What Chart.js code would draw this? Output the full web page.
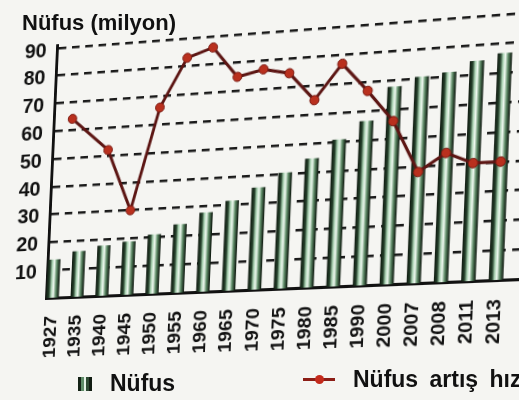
<!DOCTYPE html>
<html>
<head>
<meta charset="utf-8">
<script src="https://cdn.jsdelivr.net/npm/chart.js@4.4.1/dist/chart.umd.min.js"></script>
<style>
  html, body { margin: 0; padding: 0; background: #f5f5f2; overflow: hidden; }
  body { position: relative; width: 519px; height: 400px; font-family: "Liberation Sans", Arial, sans-serif; color: #111; }
  #chart { position: absolute; left: 0; top: 0; transform-origin: 0 0; }
  #title { position: absolute; left: 22px; top: 12px; font-size: 22px; line-height: 1; font-weight: bold; }
  .legend { position: absolute; font-size: 23px; line-height: 1; font-weight: bold; white-space: nowrap; }
  .barkey { display: inline-block; width: 14px; height: 14px; margin-right: 18px; vertical-align: 0;
    background: linear-gradient(to right, #142216 0 22%, #5f8c68 22% 42%, #e4f2e6 42% 58%, #2f4b34 58% 78%, #111c12 78%); }
  .linekey { display: inline-block; position: relative; width: 32px; height: 3px; margin-right: 18px; vertical-align: 6px; background: #8c1d16; }
  .linekey i { position: absolute; left: 12px; top: -3px; width: 9px; height: 9px; border-radius: 50%; background: #c42a1c; }
</style>
</head>
<body>
<canvas id="chart" width="530" height="400"></canvas>
<div id="title">Nüfus (milyon)</div>
<div class="legend" style="left:78px; top:372px"><span class="barkey"></span>Nüfus</div>
<div class="legend" style="left:303px; top:368px; word-spacing:5px"><span class="linekey"><i></i></span>Nüfus artış hızı</div>
<script>
const years = ['1927', '1935', '1940', '1945', '1950', '1955', '1960', '1965', '1970',
  '1975', '1980', '1985', '1990', '2000', '2007', '2008', '2011', '2013'];
const population = [13.6, 16.2, 17.8, 18.8, 20.9, 24.1, 27.8, 31.4, 35.6,
  40.3, 44.7, 50.7, 56.5, 67.8, 70.6, 71.5, 74.7, 76.7];
// growth rate points sit between/at the year columns (index on the year axis)
const ratePos = [0.5, 2, 3, 4, 5, 6, 7, 8, 9, 10, 11, 12, 13, 14, 15, 16, 17];
const rateValues = [64, 52, 30, 66, 83, 86, 75, 77, 75, 65, 77, 67, 56, 38, 44, 40, 40];
const yTicks = [10, 20, 30, 40, 50, 60, 70, 80, 90];

const FONT = '"Liberation Sans", Arial, sans-serif';

function barFill(c) {
  const chart = c.chart;
  const sx = chart.scales && chart.scales.x;
  if (!sx || c.dataIndex === undefined) return '#8fb898';
  const x = sx.getPixelForValue(c.dataIndex);
  if (!isFinite(x)) return '#8fb898';
  const g = chart.ctx.createLinearGradient(x - 6.5, 0, x + 6.5, 0);
  g.addColorStop(0, '#111c12');
  g.addColorStop(0.2, '#24402a');
  g.addColorStop(0.38, '#a9d2b2');
  g.addColorStop(0.55, '#eef8ef');
  g.addColorStop(0.75, '#5e8c67');
  g.addColorStop(1, '#0f1a10');
  return g;
}

// the printed page was photographed at an angle: map the flat chart corners
// (axis origin, 90 on the axis, 2013 at 0 and at 90) onto where they sit in the photo
function homography(src, dst) {
  const A = [], b = [];
  for (let i = 0; i < 4; i++) {
    const [x, y] = src[i], [u, v] = dst[i];
    A.push([x, y, 1, 0, 0, 0, -u * x, -u * y]); b.push(u);
    A.push([0, 0, 0, x, y, 1, -v * x, -v * y]); b.push(v);
  }
  for (let c = 0; c < 8; c++) {
    let p = c;
    for (let r = c + 1; r < 8; r++) if (Math.abs(A[r][c]) > Math.abs(A[p][c])) p = r;
    [A[c], A[p]] = [A[p], A[c]]; [b[c], b[p]] = [b[p], b[c]];
    for (let r = 0; r < 8; r++) {
      if (r === c) continue;
      const f = A[r][c] / A[c][c];
      for (let k = c; k < 8; k++) A[r][k] -= f * A[c][k];
      b[r] -= f * b[c];
    }
  }
  return b.map((v, i) => v / A[i][i]);
}

const chart = new Chart(document.getElementById('chart'), {
  type: 'bar',
  data: {
    datasets: [
      {
        type: 'line',
        label: 'Nüfus artış hızı',
        data: ratePos.map((x, i) => ({ x: x, y: rateValues[i] })),
        borderColor: '#5c1513',
        borderWidth: 3,
        pointRadius: 4.5,
        pointBackgroundColor: '#b9301e',
        pointBorderColor: '#7a1a12',
        pointBorderWidth: 1,
        tension: 0,
        order: 0
      },
      {
        label: 'Nüfus',
        data: population.map((y, i) => ({ x: i, y: y })),
        backgroundColor: barFill,
        barThickness: 13,
        order: 1
      }
    ]
  },
  options: {
    responsive: false,
    animation: false,
    layout: { padding: { top: 44, left: 0, right: 0, bottom: 43 } },
    plugins: { legend: { display: false }, tooltip: { enabled: false } },
    scales: {
      x: {
        type: 'linear',
        offset: false,
        min: -0.26,
        max: 17.96,
        afterBuildTicks: s => { s.ticks = years.map((_, i) => ({ value: i })); },
        afterFit: s => { s.height = 60; },
        ticks: {
          autoSkip: false, maxRotation: 90, minRotation: 90, padding: 10,
          color: '#111', font: { family: FONT, size: 19, weight: 'bold' },
          callback: v => years[v] ?? ''
        },
        grid: { display: false },
        border: { color: '#111', width: 3 }
      },
      y: {
        min: 0,
        max: 91,
        afterBuildTicks: s => { s.ticks = yTicks.map(v => ({ value: v })); },
        afterFit: s => { s.width = 47; },
        ticks: { padding: 11, labelOffset: 2, color: '#111', font: { family: FONT, size: 21, weight: 'bold' } },
        grid: { color: '#1a1a1a', lineWidth: 2.5, drawTicks: false },
        border: { color: '#111', width: 3, dash: [8, 6] }
      }
    }
  }
});

const sx = chart.scales.x, sy = chart.scales.y;
const x0 = sx.left, xEnd = sx.getPixelForValue(17);
const y0 = sy.getPixelForValue(0), y90 = sy.getPixelForValue(90);
const h = homography(
  [[x0, y0], [x0, y90], [xEnd, y0], [xEnd, y90]],
  [[46, 298], [57, 48], [496, 280], [506.5, 14]]
);
document.getElementById('chart').style.transform =
  `matrix3d(${h[0]},${h[3]},0,${h[6]},${h[1]},${h[4]},0,${h[7]},0,0,1,0,${h[2]},${h[5]},0,1)`;
</script>
</body>
</html>
